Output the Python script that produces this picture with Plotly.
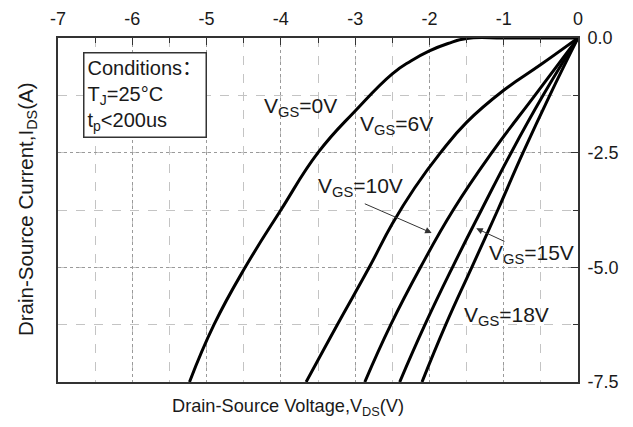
import plotly.graph_objects as go

# ---- data ----
vds_0 = [0, -0.5, -1.0, -1.5, -1.75, -2.0, -2.25, -2.5, -3.0, -3.5, -4.0, -4.48, -4.90, -5.23]
ids_0 = [0, 0, 0, -0.01, -0.12, -0.28, -0.50, -0.78, -1.59, -2.5, -3.75, -5.0, -6.25, -7.5]

vds_6 = [0, -0.5, -1.0, -1.5, -1.85, -2.2, -2.5, -2.81, -3.24, -3.66]
ids_6 = [0, -0.58, -1.14, -1.84, -2.5, -3.27, -4.05, -5.0, -6.25, -7.5]

ids_std = [0, -1.25, -2.5, -3.75, -5.0, -6.25, -7.5]
vds_10 = [0, -0.58, -1.16, -1.68, -2.12, -2.52, -2.87]
vds_15 = [0, -0.47, -0.90, -1.30, -1.69, -2.06, -2.40]
vds_18 = [0, -0.38, -0.74, -1.08, -1.43, -1.78, -2.10]

x_tickvals = [-7, -6, -5, -4, -3, -2, -1, 0]
x_ticktext = ["-7", "-6", "-5", "-4", "-3", "-2", "-1", "0"]
y_tickvals = [0, -2.5, -5.0, -7.5]
y_ticktext = ["0.0", "-2.5", "-5.0", "-7.5"]

curves = [(vds_0, ids_0), (vds_6, ids_6), (vds_10, ids_std), (vds_15, ids_std), (vds_18, ids_std)]

# label text and positions (data coords)
labels = [
    ("V<sub>GS</sub>=0V", -3.73, -1.50),
    ("V<sub>GS</sub>=6V", -2.44, -1.90),
    ("V<sub>GS</sub>=10V", -2.93, -3.25),
    ("V<sub>GS</sub>=15V", -0.62, -4.71),
    ("V<sub>GS</sub>=18V", -0.96, -6.06),
]

FONT = "Liberation Sans, Arial, Noto Sans CJK SC, sans-serif"
TXT = "#1a1a1a"

fig = go.Figure()
for vx, iy in curves:
    fig.add_trace(go.Scatter(x=vx, y=iy, mode="lines",
                             line=dict(color="black", width=3, shape="spline", smoothing=1.3),
                             showlegend=False, hoverinfo="skip"))

for t, lx, ly in labels:
    fig.add_annotation(x=lx, y=ly, xref="x", yref="y", text=t, showarrow=False,
                       xanchor="center", yanchor="middle",
                       font=dict(family=FONT, size=21, color=TXT))

# arrows
fig.add_annotation(x=-1.97, y=-4.25, ax=-2.89, ay=-3.6, xref="x", yref="y", axref="x", ayref="y",
                   text="", showarrow=True, arrowhead=2, arrowsize=1.3, arrowwidth=1, arrowcolor="#333")
fig.add_annotation(x=-1.37, y=-4.15, ax=-0.97, ay=-4.45, xref="x", yref="y", axref="x", ayref="y",
                   text="", showarrow=True, arrowhead=2, arrowsize=1.3, arrowwidth=1, arrowcolor="#333")

# conditions box
fig.add_annotation(x=0.048, y=0.959, xref="paper", yref="paper", xanchor="left", yanchor="top",
                   text="Conditions：<br>T<sub>J</sub>=25°C<br>t<sub>p</sub>&lt;200us",
                   showarrow=False, align="left", bordercolor="#333", borderwidth=1.5, borderpad=3,
                   bgcolor="white", font=dict(family=FONT, size=20, color=TXT))

# axis titles
fig.add_annotation(x=0.4423, y=-0.0727, xref="paper", yref="paper", xanchor="center", yanchor="middle",
                   text="Drain-Source Voltage,V<sub>DS</sub>(V)",
                   showarrow=False, font=dict(family=FONT, size=18.2, color=TXT))
fig.add_annotation(x=-0.0596, y=0.5, xref="paper", yref="paper", xanchor="center", yanchor="middle",
                   text="Drain-Source Current,I<sub>DS</sub>(A)",
                   textangle=-90, showarrow=False, font=dict(family=FONT, size=20.5, color=TXT))

axis_common = dict(tickmode="array", ticks="inside", ticklen=7, tickwidth=1.2, tickcolor="#333",
                   showgrid=True, gridcolor="#9a9a9a", griddash="dot", gridwidth=1,
                   showline=True, linecolor="#333", linewidth=2, mirror=True, zeroline=False,
                   ticklabelstandoff=4, automargin=False,
                   tickfont=dict(family=FONT, size=18, color=TXT))

fig.update_xaxes(range=[-7, 0], side="top", tickvals=x_tickvals, ticktext=x_ticktext,
                 minor=dict(dtick=0.5, tick0=0, ticks="inside", ticklen=5, tickcolor="#333",
                            showgrid=True, gridcolor="#c4c4c4", griddash="dash", gridwidth=1),
                 **axis_common)
fig.update_yaxes(range=[-7.5, 0], side="right", tickvals=y_tickvals, ticktext=y_ticktext,
                 minor=dict(dtick=1.25, tick0=0, ticks="inside", ticklen=5, tickcolor="#333",
                            showgrid=True, gridcolor="#c4c4c4", griddash="dash", gridwidth=1),
                 **axis_common)

# the page adds an 8px body margin, so the figure is shifted by -8px
fig.update_layout(width=617, height=411, margin=dict(l=50, r=47, t=30, b=37),
                  paper_bgcolor="white", plot_bgcolor="white")

fig.write_html("out.html")
